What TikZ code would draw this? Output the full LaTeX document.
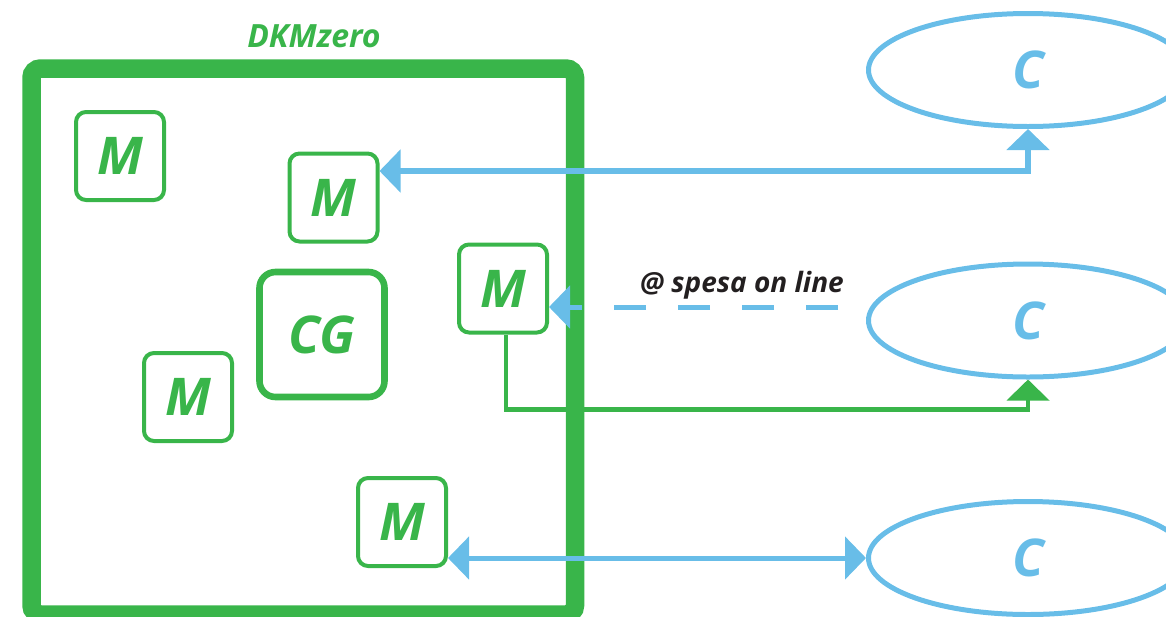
\documentclass[tikz,border=0pt]{standalone}
\usepackage{fontspec}
\setmainfont{Open Sans}
\usetikzlibrary{arrows.meta,shapes.geometric}
\definecolor{dkgreen}{RGB}{57,181,74}
\definecolor{dkblue}{RGB}{104,189,232}
\definecolor{dkink}{RGB}{35,31,32}
\tikzset{
  bigfont/.style={font=\fontsize{26}{26}\selectfont\bfseries\itshape},
  mbox/.style={draw=dkgreen, line width=2pt, rounded corners=5pt, minimum size=44pt,
    inner sep=0pt, text=dkgreen, bigfont},
  cbox/.style={ellipse, draw=dkblue, line width=2.5pt, minimum width=159.5pt,
    minimum height=56.5pt, inner sep=0pt, text=dkblue, bigfont},
  head/.tip={Triangle[length=10.5pt,width=21pt]},
}
\begin{document}
\begin{tikzpicture}[x=0.5pt,y=-0.5pt]
  \clip (0,0) rectangle (1166,616);

  % DKMzero
  \node[draw=dkgreen, line width=9.25pt, rounded corners=4.5pt, minimum width=271.75pt, minimum height=273pt] (dkm) at (303.25,341.5) {};
  \node[text=dkgreen, font=\fontsize{16}{16}\selectfont\bfseries\itshape] (dkmtitle) at (314,36) {DKMzero};

  \node[mbox] (M1) at (120,156) {M};
  \node[mbox] (M2) at (333.5,197.5) {M};
  \node[mbox] (M3) at (503,288.5) {M};
  \node[mbox] (M4) at (188,397) {M};
  \node[mbox] (M5) at (402,522) {M};
  \node[mbox, line width=3.3pt, rounded corners=8pt, minimum size=62.5pt] (CG) at (322,334.5) {CG};

  % clienti
  \node[cbox] (C1) at (1028,70) {C};
  \node[cbox] (C2) at (1028,320.5) {C};
  \node[cbox] (C3) at (1028,558) {C};

  \draw[dkblue, line width=3pt, head-head] ([yshift=13.25pt]M2.east) -| (C1.south);

  \coordinate (spesaend) at (838,307);
  \draw[dkblue, line width=2.5pt, dash pattern=on 16pt off 16pt, -head] (spesaend) -- ([yshift=-9.25pt]M3.east);
  \node[text=dkink, font=\fontsize{14}{14}\selectfont\bfseries\itshape, anchor=base] (spesa) at (742,292) {@ spesa on line};

  \draw[dkgreen, line width=2.2pt, -head] ([xshift=1.5pt]M3.south) |- ([yshift=-15pt]C2.south) -- (C2.south);

  \draw[dkblue, line width=2.5pt, head-head] ([yshift=-18pt]M5.east) -- (C3.west);
\end{tikzpicture}
\end{document}
